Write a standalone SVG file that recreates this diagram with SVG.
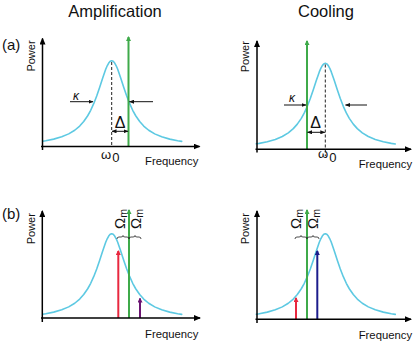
<svg xmlns="http://www.w3.org/2000/svg" xmlns:xlink="http://www.w3.org/1999/xlink" width="414" height="343" viewBox="0 0 414 343">
<style>
text{font-family:"Liberation Sans",Arial,sans-serif;fill:#111}
.ax{stroke:#000;stroke-width:1.5;fill:none;marker-end:url(#mAx)}
.cv{stroke:#5dc9e2;stroke-width:1.6;fill:none;stroke-linejoin:round;stroke-linecap:round}
.ds{stroke:#222;stroke-width:1;stroke-dasharray:3 2}
.gr{stroke:#3faa4a;stroke-width:2;marker-end:url(#mG)}
.rd{stroke:#e8283f;stroke-width:2;marker-end:url(#mR)}
.pu{stroke:#6b1472;stroke-width:2;marker-end:url(#mP)}
.nv{stroke:#1c1c8c;stroke-width:2;marker-end:url(#mN)}
.ka{stroke:#111;stroke-width:1;marker-end:url(#mK)}
.da{stroke:#111;stroke-width:1;marker-start:url(#mK);marker-end:url(#mK)}
.br{stroke:#222;stroke-width:0.8;fill:none}
.ttl{font-size:16.5px;text-anchor:middle}
.lab{font-size:15px}
.pw{font-size:11px;text-anchor:middle}
.fq{font-size:11.3px}
.om{font-size:15px}
</style>
<defs>
<marker id="mAx" markerUnits="userSpaceOnUse" markerWidth="7" markerHeight="6" refX="6" refY="3" orient="auto"><path d="M0,0 L7,3 L0,6 z" fill="#000"/></marker>
<marker id="mK" markerUnits="userSpaceOnUse" markerWidth="5" markerHeight="4" refX="4.5" refY="2" orient="auto-start-reverse"><path d="M0,0 L5,2 L0,4 z" fill="#111"/></marker>
<marker id="mG" markerUnits="userSpaceOnUse" markerWidth="5" markerHeight="5" refX="4" refY="2.5" orient="auto"><path d="M0,0 L5,2.5 L0,5 z" fill="#3faa4a"/></marker>
<marker id="mR" markerUnits="userSpaceOnUse" markerWidth="5" markerHeight="5" refX="4" refY="2.5" orient="auto"><path d="M0,0 L5,2.5 L0,5 z" fill="#e8283f"/></marker>
<marker id="mP" markerUnits="userSpaceOnUse" markerWidth="5" markerHeight="5" refX="4" refY="2.5" orient="auto"><path d="M0,0 L5,2.5 L0,5 z" fill="#6b1472"/></marker>
<marker id="mN" markerUnits="userSpaceOnUse" markerWidth="5" markerHeight="5" refX="4" refY="2.5" orient="auto"><path d="M0,0 L5,2.5 L0,5 z" fill="#1c1c8c"/></marker>
<path id="lor" class="cv" d="M-69,80.5 L-66,80.05 L-58,78.44 L-50,76.13 L-43,73.18 L-37,69.54 L-32,65.33 L-28,60.85 L-24,55.04 L-21,49.58 L-18,43 L-15,35.25 L-12,26.46 L-9,17.2 L-6,8.6 L-4.5,5.06 L-3,2.32 L-1.5,0.59 L0,0 L1.5,0.59 L3,2.32 L4.5,5.06 L6,8.6 L9,17.2 L12,26.46 L15,35.25 L18,43 L21,49.58 L24,55.04 L28,60.85 L32,65.33 L37,69.54 L43,73.18 L50,76.13 L58,78.44 L66,80.05 L70,80.67"/>
<path id="brace" class="br" d="M0,2 Q0,0 2,0 L4,0 Q6,0 6,-1.5 Q6,0 8,0 L10,0 Q12,0 12,2"/>
</defs>

<text class="ttl" x="115" y="17">Amplification</text>
<text class="ttl" x="326" y="17">Cooling</text>
<text class="lab" x="2" y="50">(a)</text>
<text class="lab" x="2" y="219">(b)</text>

<g id="panel-a-amplification">
<use xlink:href="#lor" href="#lor" transform="translate(111.7,60.7)"/>
<line class="ds" x1="111.7" y1="62" x2="111.7" y2="146.5"/>
<line class="gr" x1="128.5" y1="146.5" x2="128.5" y2="37"/>
<text class="pw" transform="translate(34.5,56) rotate(-90)">Power</text>
<text x="73" y="99.5" font-size="12" font-style="italic">κ</text>
<text x="120" y="127.5" font-size="16" text-anchor="middle">Δ</text>
<text x="101" y="158.5" font-size="13">ω<tspan dx="1" dy="3.5">0</tspan></text>
<text class="fq" x="145" y="164.5">Frequency</text>
</g>

<g id="panel-a-cooling">
<use xlink:href="#lor" href="#lor" transform="translate(325.3,63.3)"/>
<line class="ds" x1="325.3" y1="64.5" x2="325.3" y2="156"/>
<line class="gr" x1="307" y1="149.3" x2="307" y2="41"/>
<text class="pw" transform="translate(248.5,56.7) rotate(-90)">Power</text>
<text x="289" y="102" font-size="12" font-style="italic">κ</text>
<text x="315.5" y="128.3" font-size="16" text-anchor="middle">Δ</text>
<text x="318" y="158.3" font-size="13">ω<tspan dx="1" dy="3.5">0</tspan></text>
<text class="fq" x="358.7" y="167.5">Frequency</text>
</g>

<g id="panel-b-amplification">
<use xlink:href="#lor" href="#lor" transform="translate(111.7,233.7)"/>
<line class="rd" x1="118.3" y1="318" x2="118.3" y2="251"/>
<line class="pu" x1="140" y1="318" x2="140" y2="298.5"/>
<line class="gr" x1="129" y1="318" x2="129" y2="210"/>
<use xlink:href="#brace" href="#brace" transform="translate(117,237)"/>
<use xlink:href="#brace" href="#brace" transform="translate(129,237)"/>
<text class="om" transform="translate(124.5,229) rotate(-90)">Ω<tspan font-size="10.5" dy="2">m</tspan></text>
<text class="om" transform="translate(140.5,229) rotate(-90)">Ω<tspan font-size="10.5" dy="2">m</tspan></text>
<text class="pw" transform="translate(34.5,228.7) rotate(-90)">Power</text>
<text class="fq" x="145" y="338">Frequency</text>
</g>

<g id="panel-b-cooling">
<use xlink:href="#lor" href="#lor" transform="translate(325.3,233.7)"/>
<line class="rd" x1="296" y1="319.3" x2="296" y2="298"/>
<line class="nv" x1="317.3" y1="319.3" x2="317.3" y2="251"/>
<line class="gr" x1="307" y1="319.3" x2="307" y2="210"/>
<use xlink:href="#brace" href="#brace" transform="translate(295,237)"/>
<use xlink:href="#brace" href="#brace" transform="translate(307,237)"/>
<text class="om" transform="translate(300.5,229) rotate(-90)">Ω<tspan font-size="10.5" dy="2">m</tspan></text>
<text class="om" transform="translate(318,229) rotate(-90)">Ω<tspan font-size="10.5" dy="2">m</tspan></text>
<text class="pw" transform="translate(248.5,228.7) rotate(-90)">Power</text>
<text class="fq" x="358.7" y="339">Frequency</text>
</g>

<g id="connectors">
<line class="ax" x1="42.5" y1="150" x2="42.5" y2="38.5"/>
<line class="ax" x1="41" y1="146.5" x2="199.5" y2="146.5"/>
<line class="ka" x1="70" y1="101.7" x2="93" y2="101.7"/>
<line class="ka" x1="153" y1="101.7" x2="129.5" y2="101.7"/>
<line class="da" x1="112" y1="131.3" x2="128" y2="131.3"/>
<line class="ax" x1="257" y1="152.5" x2="257" y2="41"/>
<line class="ax" x1="255.5" y1="149.3" x2="411" y2="149.3"/>
<line class="ka" x1="284" y1="105" x2="306" y2="105"/>
<line class="ka" x1="367" y1="105" x2="345.5" y2="105"/>
<line class="da" x1="307.5" y1="132.3" x2="324.8" y2="132.3"/>
<line class="ax" x1="42.3" y1="322" x2="42.3" y2="211"/>
<line class="ax" x1="41" y1="318" x2="200" y2="318"/>
<line class="ax" x1="257" y1="323" x2="257" y2="211"/>
<line class="ax" x1="255.5" y1="319.3" x2="411" y2="319.3"/>
</g>
</svg>
